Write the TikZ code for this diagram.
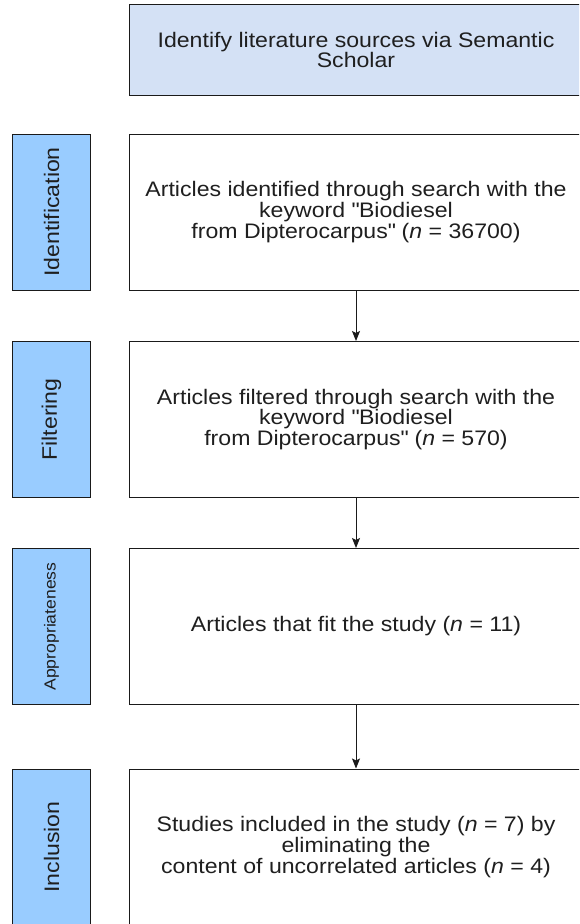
\documentclass[tikz,border=0pt]{standalone}
\usepackage{fontspec}
\setmainfont[FakeStretch=1.1]{Liberation Sans}
\usetikzlibrary{arrows.meta}
\definecolor{topfill}{HTML}{D4E1F5}
\definecolor{sidefill}{HTML}{99CCFF}
\definecolor{edgecol}{HTML}{1A1A1A}
\newcommand{\qq}{\textquotedbl}
\begin{document}
\begin{tikzpicture}[x=1pt,y=-1pt,
  basebox/.style={draw=edgecol, line width=1pt, inner sep=0pt, align=center, text=black!88},
  boxtext/.style={align=center, text=black!88, font=\fontsize{21}{19.5}\selectfont, xshift=-13pt},
  mainbox/.style={basebox, fill=white, minimum width=480pt, minimum height=156pt},
  topbox/.style={basebox, fill=topfill, minimum width=480pt, minimum height=90.5pt},
  sidebox/.style={basebox, fill=sidefill, rotate=90, minimum width=156pt, minimum height=78pt,
    font=\fontsize{21}{19.5}\selectfont},
  arr/.style={draw=edgecol, line width=1pt, -{Stealth[length=10pt,width=8pt,inset=2pt]}}
]
\useasboundingbox (0,0) rectangle (579,924);
\clip (0,0) rectangle (579,924);

\node[topbox, label={[boxtext]center:{Identify literature sources via Semantic\\Scholar}}] (top) at (369,50) {};

\node[sidebox] (s1) at (51.5,212) {Identification};
\node[sidebox] (s2) at (51.5,419.5) {Filtering};
\node[sidebox, font=\fontsize{16}{18}\selectfont] (s3) at (51.5,626.5) {Appropriateness};
\node[sidebox] (s4) at (51.5,847) {Inclusion};

\node[mainbox, label={[boxtext]center:{Articles identified through search with the\\keyword \qq Biodiesel\\from Dipterocarpus\qq{} (\textit{n} = 36700)}}] (m1) at (369,212) {};
\node[mainbox, label={[boxtext]center:{Articles filtered through search with the\\keyword \qq Biodiesel\\from Dipterocarpus\qq{} (\textit{n} = 570)}}] (m2) at (369,419.5) {};
\node[mainbox, label={[boxtext]center:{Articles that fit the study (\textit{n} = 11)}}] (m3) at (369,626.5) {};
\node[mainbox, label={[boxtext]center:{Studies included in the study (\textit{n} = 7) by\\eliminating the\\content of uncorrelated articles (\textit{n} = 4)}}] (m4) at (369,847) {};

\draw[arr] ([xshift=-13pt]m1.south) -- ([xshift=-13pt]m2.north);
\draw[arr] ([xshift=-13pt]m2.south) -- ([xshift=-13pt]m3.north);
\draw[arr] ([xshift=-13pt]m3.south) -- ([xshift=-13pt]m4.north);
\end{tikzpicture}
\end{document}
